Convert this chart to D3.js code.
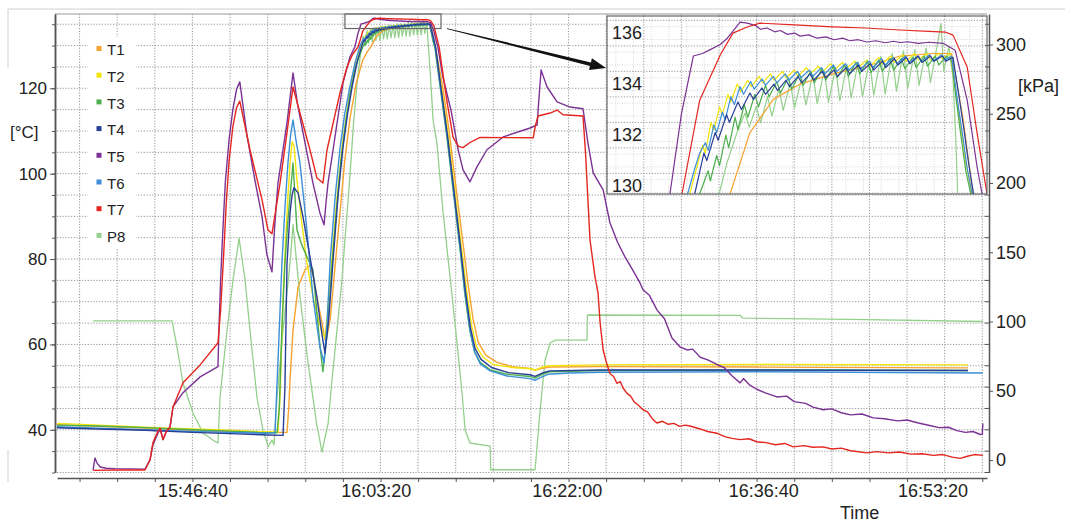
<!DOCTYPE html>
<html>
<head>
<meta charset="utf-8">
<script src="https://cdn.jsdelivr.net/npm/d3@7"></script>
<style>
  body { margin: 0; background: #fff; }
  svg { display: block; font-family: "Liberation Sans", Arial, sans-serif; }
</style>
</head>
<body>
<svg id="chart" width="1065" height="523"></svg>
<script>
// time axis: seconds relative to the 15:46:40 mark
const timeTicks = [0, 975, 1990, 3035, 3935];
const timeLabels = ['15:46:40', '16:03:20', '16:22:00', '16:36:40', '16:53:20'];
const tempLabels = [40, 60, 80, 100, 120];
const pressLabels = [0, 50, 100, 150, 200, 250, 300];
const insetTempLabels = [130, 132, 134, 136];
const names = ['T1', 'T2', 'T3', 'T4', 'T5', 'T6', 'T7', 'P8'];
const colors = ['#f7a331', '#f2e40c', '#4cae4c', '#283f95', '#7b3294', '#3b8ed8', '#e4261f', '#94d08c'];

// [seconds, °C]
const t1 = [[-720, 41.2], [-500, 40.8], [-250, 40.4], [0, 39.9], [200, 39.6], [400, 39.4], [503, 39.4],
  [512, 45], [519, 51.7], [535, 63.4], [562, 73.5], [599, 77.5], [625, 78.6], [645, 75.5], [662, 71.1],
  [689, 65.1], [705, 61.1], [718, 62.5], [733, 66], [760, 79], [785, 91], [810, 103], [838, 113],
  [870, 121], [905, 126.5], [930, 128.6], [949, 129.7], [977, 132.1], [1010, 133.4], [1048, 134.0],
  [1094, 134.4], [1142, 134.7], [1189, 135.1], [1236, 135.2], [1262, 135.2], [1278, 132.7], [1292, 129.7],
  [1330, 120.5], [1365, 110], [1398, 98], [1438, 84], [1466, 74], [1492, 66], [1520, 60.5], [1560, 57.5],
  [1620, 55.8], [1700, 54.8], [1795, 54.4], [1822, 54.0], [1860, 54.4], [1900, 54.7], [2168, 54.8],
  [3000, 54.7], [4124, 54.5]];

const t2 = [[-720, 41.5], [-500, 41.1], [-250, 40.6], [0, 40.2], [200, 39.9], [350, 39.6], [455, 39.5],
  [466, 48], [482, 71.1], [495, 84], [508, 94.6], [520, 103], [530, 107.5], [540, 106.5], [556, 98.5],
  [580, 89], [609, 79.1], [635, 72.5], [662, 67.4], [685, 63.5], [705, 61.5], [720, 68], [745, 82],
  [770, 95], [795, 106], [820, 114], [845, 121], [870, 126.5], [892, 129.7],
  [910, 131.6], [914, 131.3], [922, 132.5], [926, 132.2], [934, 133.1], [938, 132.8], [946, 133.6],
  [950, 133.3], [959, 134.0], [964, 133.7], [974, 134.15], [979, 133.9], [990, 134.3], [995, 134.05],
  [1006, 134.4], [1011, 134.15], [1023, 134.5], [1028, 134.25], [1040, 134.55], [1045, 134.3],
  [1057, 134.65], [1062, 134.4], [1074, 134.7], [1079, 134.45], [1091, 134.8], [1096, 134.55],
  [1108, 134.85], [1113, 134.6], [1125, 134.9], [1130, 134.65], [1142, 134.95], [1147, 134.7],
  [1159, 135.05], [1164, 134.8], [1176, 135.1], [1181, 134.85], [1193, 135.15], [1198, 134.9],
  [1210, 135.2], [1215, 134.95], [1227, 135.2], [1232, 134.95], [1244, 135.2], [1249, 135.0],
  [1260, 135.2], [1268, 133.6], [1275, 132.3], [1282, 130.9], [1290, 129.8],
  [1325, 120], [1360, 109], [1392, 97], [1430, 83], [1458, 72.5], [1484, 64.5], [1510, 59.5],
  [1545, 57], [1600, 55.3], [1700, 54.6], [1795, 54.3], [1822, 54.0], [1860, 54.7], [1900, 55.0],
  [2168, 55.2], [3000, 55.3], [4124, 55.2]];

const t3 = [[-720, 41.1], [-500, 40.9], [-250, 40.5], [0, 40.0], [200, 39.7], [350, 39.4], [450, 39.3],
  [462, 45], [476, 64], [492, 79], [506, 88], [519, 94.6], [529, 99.5], [535, 102.5], [545, 95],
  [556, 86.8], [580, 83.5], [609, 80.5], [641, 77.5], [662, 67.4], [680, 59], [694, 53.6], [715, 62],
  [740, 77], [765, 91], [790, 103], [815, 112], [840, 119], [865, 124.5], [890, 128], [906, 129.7],
  [918, 130.6], [921, 130.2], [930, 131.2], [934, 130.8], [943, 132.0], [947, 131.5], [956, 132.7],
  [960, 132.2], [969, 133.2], [974, 132.7], [984, 133.6], [989, 133.1], [999, 133.95], [1004, 133.5],
  [1015, 134.1], [1020, 133.65], [1031, 134.25], [1036, 133.8], [1047, 134.4], [1052, 133.95],
  [1063, 134.5], [1068, 134.05], [1079, 134.6], [1084, 134.15], [1095, 134.7], [1100, 134.25],
  [1111, 134.75], [1116, 134.3], [1127, 134.85], [1132, 134.4], [1143, 134.9], [1148, 134.45],
  [1159, 134.95], [1164, 134.5], [1175, 135.0], [1180, 134.55], [1191, 135.0], [1196, 134.6],
  [1207, 135.05], [1212, 134.65], [1223, 135.1], [1228, 134.7], [1239, 135.1], [1244, 134.75],
  [1255, 135.1], [1262, 134.9], [1268, 133.5], [1275, 132.0], [1282, 130.6], [1289, 129.7],
  [1318, 120], [1352, 109], [1384, 97], [1421, 83], [1448, 72], [1474, 63.5], [1500, 58.3],
  [1530, 55.8], [1585, 54], [1675, 53], [1795, 52.5], [1822, 52.1], [1860, 53], [1900, 53.6],
  [2168, 53.9], [3000, 54.0], [4124, 53.9]];

const t4 = [[-720, 40.5], [-500, 40.2], [-250, 39.9], [0, 39.4], [200, 39.1], [400, 38.8], [482, 38.7],
  [492, 50], [503, 79], [519, 90.8], [530, 95], [540, 96.7], [562, 95.5], [588, 89.9], [625, 80.5],
  [662, 71.1], [690, 62], [705, 58.0], [725, 66], [750, 81], [775, 95], [800, 106], [825, 114],
  [850, 120.5], [875, 126], [899, 129.7],
  [912, 131.3], [916, 131.0], [928, 132.1], [932, 131.8], [944, 132.8], [948, 132.5], [960, 133.3],
  [965, 133.0], [977, 133.65], [982, 133.4], [994, 133.85], [999, 133.6], [1011, 134.0], [1016, 133.75],
  [1028, 134.15], [1033, 133.9], [1045, 134.3], [1050, 134.05], [1062, 134.4], [1067, 134.15],
  [1079, 134.5], [1084, 134.25], [1096, 134.55], [1101, 134.3], [1113, 134.65], [1118, 134.4],
  [1130, 134.75], [1135, 134.5], [1147, 134.8], [1152, 134.55], [1164, 134.9], [1169, 134.65],
  [1181, 135.0], [1186, 134.75], [1198, 135.05], [1203, 134.8], [1215, 135.1], [1220, 134.85],
  [1232, 135.1], [1237, 134.9], [1249, 135.1], [1254, 134.9], [1264, 135.05], [1272, 133.6],
  [1279, 132.3], [1286, 130.9], [1293, 129.7],
  [1322, 120], [1356, 109], [1388, 97], [1425, 83], [1452, 72.5], [1478, 64], [1503, 59], [1535, 56.5],
  [1590, 54.6], [1680, 53.4], [1795, 52.9], [1822, 52.5], [1860, 53.3], [1900, 53.8], [2168, 54.0],
  [3000, 54.0], [4124, 53.9]];

const t5 = [[-528, 30.6], [-518, 33.4], [-507, 32.2], [-490, 31.3], [-460, 31.0], [-412, 30.9], [-252, 30.8],
  [-225, 33], [-210, 36.5], [-185, 39], [-172, 40.3], [-156, 37.7], [-140, 39.5], [-119, 40.7], [-103, 45.4],
  [-50, 48.7], [41, 52.4], [136, 54.8], [140, 62], [150, 75], [160, 85], [175, 98], [195, 108], [215, 115],
  [235, 119.8], [252, 121.5], [290, 109], [330, 99], [370, 90], [396, 81], [423, 77], [438, 88],
  [455, 97.8], [503, 111.9], [535, 123.6], [560, 116], [588, 109.6], [641, 97.8], [678, 90.8], [700, 88],
  [710, 93], [721, 97.8], [748, 105.6], [801, 121.3], [838, 127.4], [864, 129.7], [880, 132.8],
  [897, 135.1], [910, 135.2], [921, 135.35], [935, 135.55], [945, 135.8], [955, 136.15], [963, 136.43],
  [973, 136.39], [985, 136.3], [992, 136.15], [1001, 136.2], [1012, 136.05], [1020, 136.1], [1030, 135.95],
  [1040, 136.0], [1048, 135.88], [1060, 135.93], [1072, 135.8], [1084, 135.85], [1096, 135.74],
  [1108, 135.8], [1118, 135.7], [1130, 135.74], [1142, 135.65], [1155, 135.7], [1168, 135.62],
  [1180, 135.68], [1189, 135.63], [1200, 135.66], [1215, 135.6], [1230, 135.64], [1250, 135.6],
  [1267, 135.33], [1284, 133.37], [1298, 130.75], [1305, 129.7],
  [1330, 123], [1375, 114.9], [1413, 105.6], [1439, 100.9], [1476, 98.1], [1513, 101.6], [1566, 105.6],
  [1652, 108.6], [1795, 110.7], [1833, 111.4], [1840, 116], [1854, 124.3], [1868, 122.5], [1886, 120.3],
  [1939, 116.8], [2008, 115.6], [2077, 115.2], [2103, 107.2], [2131, 100.2], [2184, 96.2], [2220, 88.5],
  [2260, 84], [2300, 80.5], [2340, 77.5], [2380, 74.4], [2396, 72.8], [2430, 71.5], [2470, 68.1],
  [2510, 66.0], [2550, 61.5], [2593, 59.4], [2630, 58.7], [2660, 58.9], [2700, 57.0], [2740, 56.4],
  [2789, 55.3], [2830, 54.5], [2870, 52.6], [2912, 51.0], [2930, 52.0], [2960, 50.6], [3000, 49.5],
  [3050, 48.6], [3108, 47.7], [3160, 47.9], [3200, 46.6], [3260, 46.2], [3300, 45.3], [3354, 44.7],
  [3400, 44.9], [3450, 44.0], [3500, 43.5], [3560, 43.7], [3620, 42.8], [3680, 42.6], [3750, 42.1],
  [3800, 42.3], [3860, 41.6], [3920, 41.0], [3970, 40.5], [4020, 40.6], [4065, 39.8], [4110, 39.4],
  [4150, 39.6], [4190, 38.9], [4200, 39.0], [4203, 41.5]];

const t6 = [[-720, 40.7], [-500, 40.4], [-250, 40.0], [0, 39.6], [200, 39.4], [380, 39.2], [439, 39.3],
  [455, 56], [476, 79], [492, 92], [508, 102.5], [522, 109], [535, 112.6], [550, 108], [572, 102.5],
  [609, 86.8], [641, 71.1], [678, 59.4], [700, 55.7], [716, 65], [733, 80], [760, 95], [785, 106],
  [810, 114], [838, 120.5], [865, 126], [889, 129.7], [898, 130.6],
  [906, 131.3], [914, 131.7], [918, 131.4], [926, 132.4], [930, 132.1], [938, 132.9], [942, 132.6],
  [950, 133.5], [955, 133.2], [963, 133.9], [968, 133.6], [978, 134.1], [983, 133.8], [994, 134.2],
  [999, 133.95], [1010, 134.3], [1015, 134.05], [1027, 134.4], [1032, 134.15], [1044, 134.5],
  [1049, 134.25], [1061, 134.55], [1066, 134.3], [1078, 134.65], [1083, 134.4], [1095, 134.75],
  [1100, 134.5], [1112, 134.8], [1117, 134.55], [1129, 134.85], [1134, 134.6], [1146, 134.9],
  [1151, 134.65], [1163, 135.0], [1168, 134.75], [1180, 135.05], [1185, 134.8], [1197, 135.1],
  [1202, 134.85], [1214, 135.1], [1219, 134.9], [1231, 135.15], [1236, 134.9], [1248, 135.15],
  [1253, 134.95], [1262, 135.1], [1270, 133.4], [1277, 132.1], [1284, 130.7], [1291, 129.7],
  [1320, 120], [1354, 109], [1386, 97], [1423, 83], [1450, 72], [1476, 63.5], [1500, 58.3],
  [1530, 55.5], [1583, 53.8], [1673, 52.6], [1795, 52.0], [1822, 51.6], [1850, 52.2], [1890, 53.0],
  [2000, 53.3], [2168, 53.5], [3000, 53.6], [4203, 53.3]];

const t7 = [[-528, 30.5], [-400, 30.6], [-252, 30.6], [-225, 33], [-210, 37], [-185, 39.5], [-172, 40.3],
  [-156, 37.7], [-140, 39.5], [-119, 40.7], [-103, 45.4], [-50, 51], [41, 55.2], [136, 60.4], [150, 68],
  [165, 80], [180, 93], [195, 103], [215, 111], [235, 115.5], [252, 117.0], [306, 105.6], [370, 93.9],
  [402, 86.8], [423, 85.9], [466, 97.8], [503, 109.6], [535, 120.3], [572, 114.2], [625, 105.6],
  [662, 99.0], [694, 97.8], [716, 105.6], [785, 119], [822, 125], [850, 127.8], [881, 129.7],
  [906, 133.37], [935, 135.14], [953, 136.0], [973, 136.24], [991, 136.39], [1040, 136.32],
  [1094, 136.24], [1140, 136.2], [1189, 136.12], [1230, 136.07], [1253, 136.04], [1264, 135.92],
  [1284, 134.67], [1298, 132.08], [1312, 129.69],
  [1330, 124], [1355, 116.5], [1386, 108.5], [1415, 106.4], [1439, 106.1], [1476, 107.3], [1529, 108.5],
  [1812, 108.4], [1825, 111.5], [1838, 113.5], [1902, 114.2], [1939, 114.9], [1971, 113.8], [2077, 113.5],
  [2090, 105], [2114, 84.5], [2140, 76], [2157, 72], [2168, 65], [2184, 58.7], [2200, 56], [2220, 53.2],
  [2240, 52.5], [2257, 50.9], [2275, 51.3], [2290, 49.8], [2310, 48.6], [2330, 47.9], [2350, 46.5],
  [2370, 45.8], [2396, 44.7], [2420, 44.2], [2445, 42.6], [2470, 41.6], [2500, 42.0], [2530, 41.3],
  [2560, 41.5], [2590, 40.8], [2620, 41.1], [2646, 40.9], [2700, 40.2], [2740, 39.6], [2789, 39.2],
  [2830, 38.4], [2870, 38.0], [2912, 37.7], [2960, 37.9], [3000, 37.2], [3050, 37.0], [3100, 36.5],
  [3150, 36.8], [3195, 36.0], [3250, 36.3], [3300, 35.9], [3354, 36.0], [3400, 35.5], [3450, 35.7],
  [3500, 35.1], [3586, 34.6], [3640, 34.9], [3700, 34.6], [3760, 34.8], [3820, 34.3], [3880, 34.4],
  [3940, 34.0], [3990, 34.2], [4040, 33.6], [4083, 33.3], [4120, 33.8], [4160, 34.2], [4203, 34.0]];

// [seconds, kPa] as seen in the main view
const p8 = [[-528, 100.5], [-108, 100.5], [-80, 80], [-50, 55.6], [3, 33.9], [56, 19.5], [109, 14.4],
  [136, 12.3], [147, 45.5], [184, 93.9], [216, 130], [248, 160], [280, 130], [306, 93.9], [343, 45.5],
  [375, 21.7], [396, 13], [402, 9.4], [423, 14.4], [434, 11], [450, 45.5], [482, 94], [519, 142],
  [535, 170], [556, 140], [572, 118], [615, 70], [660, 26.7], [689, 5.8], [722, 26.7], [742, 57.8],
  [769, 94], [795, 130], [811, 159], [835, 200], [855, 240], [875, 272], [891, 290], [908, 306],
  [916, 299], [928, 310], [936, 301], [948, 311], [956, 302], [968, 312], [976, 303], [988, 312],
  [996, 303], [1008, 313], [1016, 304], [1028, 313], [1036, 304], [1048, 314], [1056, 305], [1068, 314],
  [1076, 305], [1088, 315], [1096, 305], [1108, 315], [1116, 306], [1128, 315], [1136, 306], [1148, 316],
  [1156, 306], [1168, 316], [1176, 307], [1188, 316], [1196, 307], [1208, 317], [1216, 307], [1228, 317],
  [1236, 308], [1246, 316], [1262, 285], [1280, 245], [1300, 229], [1332, 180], [1370, 132],
  [1407, 84.5], [1434, 48], [1450, 21.7], [1476, 12.3], [1583, 10], [1586, -7], [1822, -7], [1849, 36],
  [1875, 72], [1902, 84.5], [1930, 86.6], [2098, 86.6], [2100, 104.7], [2912, 104.5], [2925, 102.5],
  [3500, 101.5], [4203, 100]];

// [seconds, kPa] as drawn in the zoomed panel
const p8Zoom = [[930, 185], [945, 215], [960, 238], [970, 250], [976, 240], [986, 255], [992, 243],
  [1002, 262], [1008, 248], [1018, 268], [1024, 252], [1034, 272], [1040, 254], [1050, 275], [1056, 256],
  [1066, 278], [1072, 257], [1082, 281], [1088, 258], [1098, 283], [1104, 259], [1114, 285], [1120, 261],
  [1130, 287], [1136, 262], [1146, 288], [1152, 263], [1162, 291], [1168, 264], [1178, 293], [1184, 266],
  [1194, 295], [1200, 268], [1210, 296], [1216, 270], [1226, 297], [1232, 272], [1242, 300], [1247, 315],
  [1251, 280], [1258, 298], [1264, 276], [1268, 230], [1271, 185]];

const insetWindow = [775, 1312];
const zoomBox = { from: 811, to: 1322, low: 134, high: 137.4 };

const seriesData = { T1: t1, T2: t2, T3: t3, T4: t4, T5: t5, T6: t6, T7: t7, P8: p8 };
const insetData = { T1: t1, T2: t2, T3: t3, T4: t4, T5: t5, T6: t6, T7: t7, P8: p8Zoom };
const drawOrder = ['P8', 'T1', 'T2', 'T3', 'T6', 'T4', 'T5', 'T7'];

const svg = d3.select('#chart');
const font = '"Liberation Sans", Arial, sans-serif';
const gridColor = '#8c8c8c';

const x = d3.scaleLinear().domain([-720, 4225]).range([57, 987]);
const yT = d3.scaleLinear().domain([30, 137.4]).range([472.5, 14]);
const yP = d3.scaleLinear().domain([-9, 322]).range([472.5, 14]);

// faint outer frame of the figure
svg.append('line').attr('x1', 8).attr('x2', 1065).attr('y1', 9).attr('y2', 9).attr('stroke', '#d0d0d0');
svg.append('line').attr('x1', 8).attr('x2', 8).attr('y1', 9).attr('y2', 68).attr('stroke', '#d0d0d0');
svg.append('line').attr('x1', 8).attr('x2', 8).attr('y1', 450).attr('y2', 482).attr('stroke', '#d0d0d0');

const xGrid = d3.range(-600, 4201, 200);
const yGrid = d3.range(30, 136, 5);

const grid = svg.append('g');
grid.selectAll('.vg').data(xGrid).enter().append('line')
  .attr('x1', d => x(d)).attr('x2', d => x(d)).attr('y1', 14).attr('y2', 472.5)
  .attr('stroke', gridColor).attr('stroke-width', 0.9).attr('stroke-dasharray', '1.2,1.6');
grid.selectAll('.hg').data(yGrid).enter().append('line')
  .attr('x1', 57).attr('x2', 987).attr('y1', d => yT(d)).attr('y2', d => yT(d))
  .attr('stroke', gridColor).attr('stroke-width', 0.9).attr('stroke-dasharray', '1.2,1.6');
svg.append('line').attr('x1', 55).attr('x2', 987).attr('y1', 14).attr('y2', 14).attr('stroke', '#999');

// legend box (covers the grid)
const legend = svg.append('g');
legend.append('rect').attr('x', 88).attr('y', 37).attr('width', 48).attr('height', 212).attr('fill', '#fff');
names.forEach((n, i) => {
  const cy = 50 + i * 26.7;
  legend.append('rect').attr('x', 96.5).attr('y', cy - 4).attr('width', 5).attr('height', 5).attr('fill', colors[i]);
  legend.append('text').attr('x', 107).attr('y', cy).attr('dy', '0.35em')
    .attr('font-size', 15).attr('font-family', font).attr('fill', '#222').text(n);
});

// lines, main view
svg.append('clipPath').attr('id', 'mainClip').append('rect')
  .attr('x', 57).attr('y', 12).attr('width', 930).attr('height', 462);
const lines = svg.append('g').attr('clip-path', 'url(#mainClip)');
drawOrder.forEach(n => {
  const yScale = n === 'P8' ? yP : yT;
  const line = d3.line().x(d => x(d[0])).y(d => yScale(d[1]));
  lines.append('path').datum(seriesData[n]).attr('d', line)
    .attr('fill', 'none').attr('stroke', colors[names.indexOf(n)])
    .attr('stroke-width', n === 'P8' ? 1.3 : 1.4).attr('stroke-linejoin', 'round');
});

// axes
function styleAxis(g, size) {
  g.selectAll('path,line').attr('stroke', '#555');
  g.select('.domain').attr('stroke-width', 1.5);
  g.selectAll('text').attr('font-size', size).attr('font-family', font).attr('fill', '#222');
}
svg.append('g').attr('transform', 'translate(55,0)')
  .call(d3.axisLeft(yT).tickValues(yGrid).tickSize(3).tickSizeOuter(0).tickFormat(''))
  .call(g => styleAxis(g, 17));
svg.append('g').attr('transform', 'translate(55,0)')
  .call(d3.axisLeft(yT).tickValues(tempLabels).tickSize(5).tickSizeOuter(0).tickPadding(3))
  .call(g => styleAxis(g, 17));
svg.append('g').attr('transform', 'translate(0,478)')
  .call(d3.axisBottom(x).tickValues(xGrid).tickSize(4).tickSizeOuter(0).tickFormat(''))
  .call(g => styleAxis(g, 18));
svg.append('g').attr('transform', 'translate(0,478)')
  .call(d3.axisBottom(x).tickValues(timeTicks).tickSize(0).tickPadding(6).tickFormat((d, i) => timeLabels[i]))
  .call(g => { styleAxis(g, 18); g.select('.domain').remove(); });

// inset panel
const ix = d3.scaleLinear().domain(insetWindow).range([607, 987]);
const iyT = d3.scaleLinear().domain([129.69, 136.67]).range([194, 16]);
const iyP = d3.scaleLinear().domain([191.7, 320.2]).range([194, 16]);

const inset = svg.append('g');
inset.append('rect').attr('x', 607).attr('y', 16).attr('width', 380).attr('height', 178).attr('fill', '#fff');
svg.append('clipPath').attr('id', 'insetClip').append('rect')
  .attr('x', 607).attr('y', 16).attr('width', 380).attr('height', 178);
const ig = inset.append('g').attr('clip-path', 'url(#insetClip)');
ig.selectAll('.ivl').data(d3.range(787.5, 1312, 25)).enter().append('line')
  .attr('x1', d => ix(d)).attr('x2', d => ix(d)).attr('y1', 16).attr('y2', 194)
  .attr('stroke', '#cfcfcf').attr('stroke-width', 0.8).attr('stroke-dasharray', '1,1.5');
ig.selectAll('.ihl').data(d3.range(129.75, 136.7, 0.5)).enter().append('line')
  .attr('x1', 607).attr('x2', 987).attr('y1', d => iyT(d)).attr('y2', d => iyT(d))
  .attr('stroke', '#cfcfcf').attr('stroke-width', 0.8).attr('stroke-dasharray', '1,1.5');
ig.selectAll('.ivg').data(xGrid).enter().append('line')
  .attr('x1', d => x(d)).attr('x2', d => x(d)).attr('y1', 16).attr('y2', 194)
  .attr('stroke', gridColor).attr('stroke-width', 0.9).attr('stroke-dasharray', '1.2,1.6');
ig.selectAll('.ihg').data(d3.range(130, 136.7, 1)).enter().append('line')
  .attr('x1', 607).attr('x2', 987).attr('y1', d => iyT(d) - 12.7).attr('y2', d => iyT(d) - 12.7)
  .attr('stroke', gridColor).attr('stroke-width', 0.9).attr('stroke-dasharray', '1.2,1.6');
drawOrder.forEach(n => {
  const yScale = n === 'P8' ? iyP : iyT;
  const line = d3.line().x(d => ix(d[0])).y(d => yScale(d[1]));
  ig.append('path').datum(insetData[n]).attr('d', line)
    .attr('fill', 'none').attr('stroke', colors[names.indexOf(n)])
    .attr('stroke-width', 1.2).attr('stroke-linejoin', 'round');
});
inset.selectAll('.itl').data(insetTempLabels).enter().append('text')
  .attr('x', 612).attr('y', d => iyT(d)).attr('dy', '0.35em')
  .attr('font-size', 18).attr('font-family', font).attr('fill', '#222').text(d => d);
inset.append('rect').attr('x', 607).attr('y', 16).attr('width', 380).attr('height', 178)
  .attr('fill', 'none').attr('stroke', '#666').attr('stroke-width', 1.2);

// right axis (pressure), ticks at the grid rows plus labelled values
svg.append('g').attr('transform', 'translate(989,0)')
  .call(d3.axisRight(yP).tickValues(pressLabels).tickSize(4).tickSizeOuter(0).tickPadding(3))
  .call(g => styleAxis(g, 18));
svg.append('g').selectAll('line').data(yGrid).enter().append('line')
  .attr('x1', 985).attr('x2', 989).attr('y1', d => yT(d)).attr('y2', d => yT(d)).attr('stroke', '#555');

// zoom box and arrow
const bx0 = x(zoomBox.from), bx1 = x(zoomBox.to), by0 = yT(zoomBox.high), by1 = yT(zoomBox.low);
svg.append('rect').attr('x', bx0).attr('y', by0).attr('width', bx1 - bx0).attr('height', by1 - by0)
  .attr('fill', 'none').attr('stroke', '#666').attr('stroke-width', 1.2);
const S = [bx1 + 6, by1], E = [606, 68];
const len = Math.hypot(E[0] - S[0], E[1] - S[1]);
const d = [(E[0] - S[0]) / len, (E[1] - S[1]) / len], nrm = [-d[1], d[0]];
const B = [E[0] - d[0] * 16, E[1] - d[1] * 16];
const pt = (p, k) => [p[0] + nrm[0] * k, p[1] + nrm[1] * k];
svg.append('polygon')
  .attr('points', [pt(S, 0.4), pt(B, 1.8), pt(B, 6), E, pt(B, -6), pt(B, -1.8), pt(S, -0.4)].map(p => p.join(',')).join(' '))
  .attr('fill', '#111');

// unit and axis titles
svg.append('text').attr('x', 10).attr('y', 132).attr('dy', '0.35em').attr('font-size', 17)
  .attr('font-family', font).attr('fill', '#222').text('[°C]');
svg.append('text').attr('x', 1018).attr('y', 86).attr('dy', '0.35em').attr('font-size', 18)
  .attr('font-family', font).attr('fill', '#222').text('[kPa]');
svg.append('text').attr('x', 840).attr('y', 519).attr('font-size', 18)
  .attr('font-family', font).attr('fill', '#222').text('Time');
</script>
</body>
</html>
